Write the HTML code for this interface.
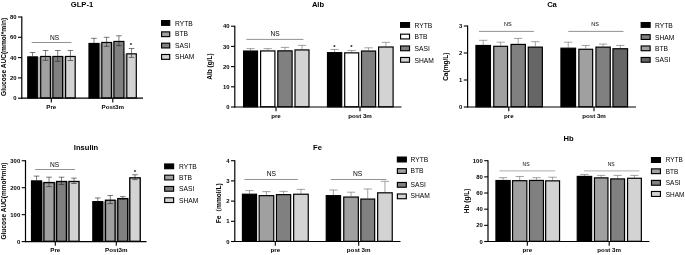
<!DOCTYPE html>
<html><head><meta charset="utf-8"><title>Figure</title>
<style>html,body{margin:0;padding:0;background:#fff;}body{width:685px;height:255px;overflow:hidden;}svg{display:block;will-change:transform;}text{font-family:'Liberation Sans', 'Noto Sans CJK SC', Arial, Helvetica, sans-serif;}</style></head>
<body><svg width="685" height="255" viewBox="0 0 685 255" style="font-family:'Liberation Sans', 'Noto Sans CJK SC', Arial, Helvetica, sans-serif">
<rect width="685" height="255" fill="#fff"/>
<rect x="37.70" y="56.78" width="2.60" height="41.42" fill="#b4b4b4"/>
<rect x="50.80" y="56.37" width="1.70" height="41.83" fill="#b4b4b4"/>
<rect x="63.00" y="56.37" width="2.20" height="41.83" fill="#b4b4b4"/>
<rect x="99.40" y="43.38" width="2.00" height="54.82" fill="#b4b4b4"/>
<rect x="111.80" y="42.37" width="1.70" height="55.83" fill="#b4b4b4"/>
<rect x="124.30" y="53.74" width="2.10" height="44.46" fill="#b4b4b4"/>
<line x1="32.55" y1="52.53" x2="32.55" y2="56.28" stroke="#222" stroke-width="0.6"/>
<line x1="29.75" y1="52.53" x2="35.35" y2="52.53" stroke="#222" stroke-width="0.6"/>
<rect x="27.80" y="56.88" width="9.50" height="41.12" fill="#000" stroke="#000" stroke-width="1.2"/>
<line x1="45.55" y1="50.50" x2="45.55" y2="55.87" stroke="#222" stroke-width="0.6"/>
<line x1="42.75" y1="50.50" x2="48.35" y2="50.50" stroke="#222" stroke-width="0.6"/>
<rect x="40.70" y="56.47" width="9.70" height="41.53" fill="#a0a0a0" stroke="#000" stroke-width="1.2"/>
<line x1="45.55" y1="55.87" x2="45.55" y2="60.24" stroke="#222" stroke-width="0.6"/>
<line x1="42.75" y1="60.24" x2="48.35" y2="60.24" stroke="#222" stroke-width="0.6"/>
<line x1="57.75" y1="50.50" x2="57.75" y2="55.87" stroke="#222" stroke-width="0.6"/>
<line x1="54.95" y1="50.50" x2="60.55" y2="50.50" stroke="#222" stroke-width="0.6"/>
<rect x="52.90" y="56.47" width="9.70" height="41.53" fill="#808080" stroke="#000" stroke-width="1.2"/>
<line x1="57.75" y1="55.87" x2="57.75" y2="61.25" stroke="#222" stroke-width="0.6"/>
<line x1="54.95" y1="61.25" x2="60.55" y2="61.25" stroke="#222" stroke-width="0.6"/>
<line x1="70.40" y1="50.50" x2="70.40" y2="55.87" stroke="#222" stroke-width="0.6"/>
<line x1="67.60" y1="50.50" x2="73.20" y2="50.50" stroke="#222" stroke-width="0.6"/>
<rect x="65.60" y="56.47" width="9.60" height="41.53" fill="#d3d3d3" stroke="#000" stroke-width="1.2"/>
<line x1="70.40" y1="55.87" x2="70.40" y2="60.54" stroke="#222" stroke-width="0.6"/>
<line x1="67.60" y1="60.54" x2="73.20" y2="60.54" stroke="#222" stroke-width="0.6"/>
<line x1="94.00" y1="38.32" x2="94.00" y2="42.88" stroke="#222" stroke-width="0.6"/>
<line x1="91.20" y1="38.32" x2="96.80" y2="38.32" stroke="#222" stroke-width="0.6"/>
<rect x="89.00" y="43.48" width="10.00" height="54.52" fill="#000" stroke="#000" stroke-width="1.2"/>
<line x1="106.60" y1="37.30" x2="106.60" y2="41.87" stroke="#222" stroke-width="0.6"/>
<line x1="103.80" y1="37.30" x2="109.40" y2="37.30" stroke="#222" stroke-width="0.6"/>
<rect x="101.80" y="42.47" width="9.60" height="55.53" fill="#a0a0a0" stroke="#000" stroke-width="1.2"/>
<line x1="106.60" y1="41.87" x2="106.60" y2="46.33" stroke="#222" stroke-width="0.6"/>
<line x1="103.80" y1="46.33" x2="109.40" y2="46.33" stroke="#222" stroke-width="0.6"/>
<line x1="118.90" y1="35.78" x2="118.90" y2="40.85" stroke="#222" stroke-width="0.6"/>
<line x1="116.10" y1="35.78" x2="121.70" y2="35.78" stroke="#222" stroke-width="0.6"/>
<rect x="113.90" y="41.45" width="10.00" height="56.55" fill="#808080" stroke="#000" stroke-width="1.2"/>
<line x1="118.90" y1="40.85" x2="118.90" y2="45.62" stroke="#222" stroke-width="0.6"/>
<line x1="116.10" y1="45.62" x2="121.70" y2="45.62" stroke="#222" stroke-width="0.6"/>
<line x1="131.55" y1="48.47" x2="131.55" y2="53.24" stroke="#222" stroke-width="0.6"/>
<line x1="128.75" y1="48.47" x2="134.35" y2="48.47" stroke="#222" stroke-width="0.6"/>
<rect x="126.80" y="53.84" width="9.50" height="44.16" fill="#d3d3d3" stroke="#000" stroke-width="1.2"/>
<line x1="131.55" y1="53.24" x2="131.55" y2="57.40" stroke="#222" stroke-width="0.6"/>
<line x1="128.75" y1="57.40" x2="134.35" y2="57.40" stroke="#222" stroke-width="0.6"/>
<line x1="21.80" y1="16.45" x2="21.80" y2="98.75" stroke="#000" stroke-width="1.2"/>
<line x1="21.20" y1="98.20" x2="143.00" y2="98.20" stroke="#000" stroke-width="1.2"/>
<line x1="18.00" y1="98.20" x2="21.80" y2="98.20" stroke="#000" stroke-width="1.1"/>
<text x="16.50" y="100.32" font-size="5.9" text-anchor="end" font-weight="bold" fill="#000">0</text>
<line x1="18.00" y1="77.90" x2="21.80" y2="77.90" stroke="#000" stroke-width="1.1"/>
<text x="16.50" y="80.02" font-size="5.9" text-anchor="end" font-weight="bold" fill="#000">20</text>
<line x1="18.00" y1="57.60" x2="21.80" y2="57.60" stroke="#000" stroke-width="1.1"/>
<text x="16.50" y="59.72" font-size="5.9" text-anchor="end" font-weight="bold" fill="#000">40</text>
<line x1="18.00" y1="37.30" x2="21.80" y2="37.30" stroke="#000" stroke-width="1.1"/>
<text x="16.50" y="39.42" font-size="5.9" text-anchor="end" font-weight="bold" fill="#000">60</text>
<line x1="18.00" y1="17.00" x2="21.80" y2="17.00" stroke="#000" stroke-width="1.1"/>
<text x="16.50" y="19.12" font-size="5.9" text-anchor="end" font-weight="bold" fill="#000">80</text>
<line x1="51.30" y1="98.20" x2="51.30" y2="102.40" stroke="#000" stroke-width="1.1"/>
<text x="51.30" y="108.60" font-size="6.2" text-anchor="middle" font-weight="bold" fill="#000">Pre</text>
<line x1="112.80" y1="98.20" x2="112.80" y2="102.40" stroke="#000" stroke-width="1.1"/>
<text x="112.80" y="108.60" font-size="6.2" text-anchor="middle" font-weight="bold" fill="#000">Post3m</text>
<text x="82.00" y="6.90" font-size="7.6" text-anchor="middle" font-weight="bold" fill="#000">GLP-1</text>
<text x="6.30" y="56.90" font-size="6.6" text-anchor="middle" font-weight="bold" transform="rotate(-90 6.30 56.90)" fill="#000">Glucose AUC(mmol*min)</text>
<line x1="31.70" y1="42.50" x2="71.40" y2="42.50" stroke="#484848" stroke-width="0.6"/>
<text x="54.60" y="39.80" font-size="6.6" text-anchor="middle" fill="#000">NS</text>
<text x="131.00" y="47.10" font-size="6" text-anchor="middle" font-weight="bold" fill="#000">*</text>
<rect x="161.57" y="20.57" width="8.15" height="4.75" fill="#000" stroke="#000" stroke-width="1.15"/>
<text x="175.00" y="25.50" font-size="6.7" text-anchor="start" fill="#000">RYTB</text>
<rect x="161.57" y="31.87" width="8.15" height="4.75" fill="#a0a0a0" stroke="#000" stroke-width="1.15"/>
<text x="175.00" y="36.40" font-size="6.7" text-anchor="start" fill="#000">BTB</text>
<rect x="161.57" y="43.18" width="8.15" height="4.75" fill="#808080" stroke="#000" stroke-width="1.15"/>
<text x="175.00" y="48.10" font-size="6.7" text-anchor="start" fill="#000">SASI</text>
<rect x="161.57" y="54.48" width="8.15" height="4.85" fill="#d3d3d3" stroke="#000" stroke-width="1.15"/>
<text x="175.00" y="59.20" font-size="6.7" text-anchor="start" fill="#000">SHAM</text>
<line x1="250.55" y1="48.62" x2="250.55" y2="50.44" stroke="#666" stroke-width="0.6"/>
<line x1="246.40" y1="48.62" x2="254.70" y2="48.62" stroke="#666" stroke-width="0.6"/>
<rect x="243.60" y="51.04" width="13.90" height="55.76" fill="#000" stroke="#000" stroke-width="1.2"/>
<line x1="267.75" y1="48.62" x2="267.75" y2="50.34" stroke="#666" stroke-width="0.6"/>
<line x1="263.60" y1="48.62" x2="271.90" y2="48.62" stroke="#666" stroke-width="0.6"/>
<rect x="260.60" y="50.94" width="14.30" height="55.86" fill="#fff" stroke="#000" stroke-width="1.2"/>
<line x1="284.95" y1="47.41" x2="284.95" y2="50.24" stroke="#666" stroke-width="0.6"/>
<line x1="280.80" y1="47.41" x2="289.10" y2="47.41" stroke="#666" stroke-width="0.6"/>
<rect x="277.80" y="50.84" width="14.30" height="55.96" fill="#808080" stroke="#000" stroke-width="1.2"/>
<line x1="302.00" y1="45.39" x2="302.00" y2="49.33" stroke="#666" stroke-width="0.6"/>
<line x1="297.85" y1="45.39" x2="306.15" y2="45.39" stroke="#666" stroke-width="0.6"/>
<rect x="295.00" y="49.93" width="14.00" height="56.87" fill="#d3d3d3" stroke="#000" stroke-width="1.2"/>
<line x1="334.60" y1="49.43" x2="334.60" y2="52.06" stroke="#666" stroke-width="0.6"/>
<line x1="330.45" y1="49.43" x2="338.75" y2="49.43" stroke="#666" stroke-width="0.6"/>
<rect x="327.50" y="52.66" width="14.20" height="54.14" fill="#000" stroke="#000" stroke-width="1.2"/>
<line x1="351.70" y1="50.44" x2="351.70" y2="52.26" stroke="#666" stroke-width="0.6"/>
<line x1="347.55" y1="50.44" x2="355.85" y2="50.44" stroke="#666" stroke-width="0.6"/>
<rect x="344.70" y="52.86" width="14.00" height="53.94" fill="#fff" stroke="#000" stroke-width="1.2"/>
<line x1="368.55" y1="47.81" x2="368.55" y2="50.44" stroke="#666" stroke-width="0.6"/>
<line x1="364.40" y1="47.81" x2="372.70" y2="47.81" stroke="#666" stroke-width="0.6"/>
<rect x="361.50" y="51.04" width="14.10" height="55.76" fill="#808080" stroke="#000" stroke-width="1.2"/>
<line x1="385.85" y1="42.36" x2="385.85" y2="46.40" stroke="#666" stroke-width="0.6"/>
<line x1="381.70" y1="42.36" x2="390.00" y2="42.36" stroke="#666" stroke-width="0.6"/>
<rect x="378.60" y="47.00" width="14.50" height="59.80" fill="#d3d3d3" stroke="#000" stroke-width="1.2"/>
<line x1="234.80" y1="25.65" x2="234.80" y2="107.55" stroke="#000" stroke-width="1.2"/>
<line x1="234.20" y1="107.00" x2="401.50" y2="107.00" stroke="#000" stroke-width="1.2"/>
<line x1="231.00" y1="107.00" x2="234.80" y2="107.00" stroke="#000" stroke-width="1.1"/>
<text x="229.50" y="109.12" font-size="5.9" text-anchor="end" font-weight="bold" fill="#000">0</text>
<line x1="231.00" y1="86.80" x2="234.80" y2="86.80" stroke="#000" stroke-width="1.1"/>
<text x="229.50" y="88.92" font-size="5.9" text-anchor="end" font-weight="bold" fill="#000">10</text>
<line x1="231.00" y1="66.60" x2="234.80" y2="66.60" stroke="#000" stroke-width="1.1"/>
<text x="229.50" y="68.72" font-size="5.9" text-anchor="end" font-weight="bold" fill="#000">20</text>
<line x1="231.00" y1="46.40" x2="234.80" y2="46.40" stroke="#000" stroke-width="1.1"/>
<text x="229.50" y="48.52" font-size="5.9" text-anchor="end" font-weight="bold" fill="#000">30</text>
<line x1="231.00" y1="26.20" x2="234.80" y2="26.20" stroke="#000" stroke-width="1.1"/>
<text x="229.50" y="28.32" font-size="5.9" text-anchor="end" font-weight="bold" fill="#000">40</text>
<line x1="276.00" y1="107.00" x2="276.00" y2="111.20" stroke="#000" stroke-width="1.1"/>
<text x="276.00" y="117.80" font-size="6.2" text-anchor="middle" font-weight="bold" fill="#000">pre</text>
<line x1="360.00" y1="107.00" x2="360.00" y2="111.20" stroke="#000" stroke-width="1.1"/>
<text x="360.00" y="117.80" font-size="6.2" text-anchor="middle" font-weight="bold" fill="#000">post 3m</text>
<text x="318.00" y="6.90" font-size="7.6" text-anchor="middle" font-weight="bold" fill="#000">Alb</text>
<text x="211.70" y="66.50" font-size="6.56" text-anchor="middle" font-weight="bold" transform="rotate(-90 211.70 66.50)" fill="#000">Alb (g/L)</text>
<line x1="246.40" y1="39.40" x2="303.40" y2="39.40" stroke="#484848" stroke-width="0.6"/>
<text x="275.00" y="35.70" font-size="6.6" text-anchor="middle" fill="#000">NS</text>
<text x="334.50" y="48.50" font-size="6" text-anchor="middle" font-weight="bold" fill="#000">*</text>
<text x="351.50" y="48.50" font-size="6" text-anchor="middle" font-weight="bold" fill="#000">*</text>
<rect x="400.57" y="22.57" width="8.95" height="4.75" fill="#000" stroke="#000" stroke-width="1.15"/>
<text x="414.50" y="27.50" font-size="6.7" text-anchor="start" fill="#000">RYTB</text>
<rect x="400.57" y="34.18" width="8.95" height="4.75" fill="#fff" stroke="#000" stroke-width="1.15"/>
<text x="414.50" y="38.90" font-size="6.7" text-anchor="start" fill="#000">BTB</text>
<rect x="400.57" y="45.98" width="8.95" height="4.75" fill="#808080" stroke="#000" stroke-width="1.15"/>
<text x="414.50" y="50.70" font-size="6.7" text-anchor="start" fill="#000">SASI</text>
<rect x="400.57" y="57.48" width="8.95" height="4.75" fill="#d3d3d3" stroke="#000" stroke-width="1.15"/>
<text x="414.50" y="62.50" font-size="6.7" text-anchor="start" fill="#000">SHAM</text>
<line x1="483.20" y1="40.31" x2="483.20" y2="44.90" stroke="#666" stroke-width="0.6"/>
<line x1="479.05" y1="40.31" x2="487.35" y2="40.31" stroke="#666" stroke-width="0.6"/>
<rect x="475.95" y="45.50" width="14.50" height="61.30" fill="#000" stroke="#000" stroke-width="1.2"/>
<line x1="500.65" y1="42.20" x2="500.65" y2="45.71" stroke="#666" stroke-width="0.6"/>
<line x1="496.50" y1="42.20" x2="504.80" y2="42.20" stroke="#666" stroke-width="0.6"/>
<rect x="493.75" y="46.31" width="13.80" height="60.49" fill="#a0a0a0" stroke="#000" stroke-width="1.2"/>
<line x1="518.20" y1="38.42" x2="518.20" y2="43.82" stroke="#666" stroke-width="0.6"/>
<line x1="514.05" y1="38.42" x2="522.35" y2="38.42" stroke="#666" stroke-width="0.6"/>
<rect x="511.05" y="44.42" width="14.30" height="62.38" fill="#808080" stroke="#000" stroke-width="1.2"/>
<line x1="535.30" y1="41.66" x2="535.30" y2="46.52" stroke="#666" stroke-width="0.6"/>
<line x1="531.15" y1="41.66" x2="539.45" y2="41.66" stroke="#666" stroke-width="0.6"/>
<rect x="528.25" y="47.12" width="14.10" height="59.68" fill="#666" stroke="#000" stroke-width="1.2"/>
<line x1="568.25" y1="42.20" x2="568.25" y2="47.60" stroke="#666" stroke-width="0.6"/>
<line x1="564.10" y1="42.20" x2="572.40" y2="42.20" stroke="#666" stroke-width="0.6"/>
<rect x="560.95" y="48.20" width="14.60" height="58.60" fill="#000" stroke="#000" stroke-width="1.2"/>
<line x1="585.75" y1="45.44" x2="585.75" y2="48.68" stroke="#666" stroke-width="0.6"/>
<line x1="581.60" y1="45.44" x2="589.90" y2="45.44" stroke="#666" stroke-width="0.6"/>
<rect x="578.85" y="49.28" width="13.80" height="57.52" fill="#a0a0a0" stroke="#000" stroke-width="1.2"/>
<line x1="603.10" y1="44.09" x2="603.10" y2="46.52" stroke="#666" stroke-width="0.6"/>
<line x1="598.95" y1="44.09" x2="607.25" y2="44.09" stroke="#666" stroke-width="0.6"/>
<rect x="595.95" y="47.12" width="14.30" height="59.68" fill="#808080" stroke="#000" stroke-width="1.2"/>
<line x1="620.25" y1="45.44" x2="620.25" y2="48.14" stroke="#666" stroke-width="0.6"/>
<line x1="616.10" y1="45.44" x2="624.40" y2="45.44" stroke="#666" stroke-width="0.6"/>
<rect x="612.95" y="48.74" width="14.60" height="58.06" fill="#666" stroke="#000" stroke-width="1.2"/>
<line x1="467.60" y1="25.45" x2="467.60" y2="107.55" stroke="#000" stroke-width="1.2"/>
<line x1="467.00" y1="107.00" x2="636.00" y2="107.00" stroke="#000" stroke-width="1.2"/>
<line x1="463.80" y1="107.00" x2="467.60" y2="107.00" stroke="#000" stroke-width="1.1"/>
<text x="462.30" y="109.12" font-size="5.9" text-anchor="end" font-weight="bold" fill="#000">0</text>
<line x1="463.80" y1="80.00" x2="467.60" y2="80.00" stroke="#000" stroke-width="1.1"/>
<text x="462.30" y="82.12" font-size="5.9" text-anchor="end" font-weight="bold" fill="#000">1</text>
<line x1="463.80" y1="53.00" x2="467.60" y2="53.00" stroke="#000" stroke-width="1.1"/>
<text x="462.30" y="55.12" font-size="5.9" text-anchor="end" font-weight="bold" fill="#000">2</text>
<line x1="463.80" y1="26.00" x2="467.60" y2="26.00" stroke="#000" stroke-width="1.1"/>
<text x="462.30" y="28.12" font-size="5.9" text-anchor="end" font-weight="bold" fill="#000">3</text>
<line x1="508.80" y1="107.00" x2="508.80" y2="111.20" stroke="#000" stroke-width="1.1"/>
<text x="508.80" y="117.90" font-size="6.2" text-anchor="middle" font-weight="bold" fill="#000">pre</text>
<line x1="594.00" y1="107.00" x2="594.00" y2="111.20" stroke="#000" stroke-width="1.1"/>
<text x="594.00" y="117.90" font-size="6.2" text-anchor="middle" font-weight="bold" fill="#000">post 3m</text>
<text x="552.00" y="6.90" font-size="7.6" text-anchor="middle" font-weight="bold" fill="#000">Ca</text>
<text x="447.60" y="66.70" font-size="6.53" text-anchor="middle" font-weight="bold" transform="rotate(-90 447.60 66.70)" fill="#000">Ca(mg/L)</text>
<line x1="479.00" y1="31.40" x2="533.90" y2="31.40" stroke="#484848" stroke-width="0.6"/>
<text x="507.80" y="26.30" font-size="5.5" text-anchor="middle" fill="#000">NS</text>
<line x1="568.30" y1="31.40" x2="623.50" y2="31.40" stroke="#484848" stroke-width="0.6"/>
<text x="595.00" y="26.30" font-size="5.5" text-anchor="middle" fill="#000">NS</text>
<rect x="641.18" y="22.57" width="8.95" height="4.75" fill="#000" stroke="#000" stroke-width="1.15"/>
<text x="655.00" y="27.50" font-size="6.7" text-anchor="start" fill="#000">RYTB</text>
<rect x="641.18" y="34.68" width="8.95" height="4.75" fill="#808080" stroke="#000" stroke-width="1.15"/>
<text x="655.00" y="39.50" font-size="6.7" text-anchor="start" fill="#000">SHAM</text>
<rect x="641.18" y="45.98" width="8.95" height="4.75" fill="#a0a0a0" stroke="#000" stroke-width="1.15"/>
<text x="655.00" y="50.70" font-size="6.7" text-anchor="start" fill="#000">BTB</text>
<rect x="641.18" y="57.48" width="8.95" height="4.75" fill="#666" stroke="#000" stroke-width="1.15"/>
<text x="655.00" y="61.80" font-size="6.7" text-anchor="start" fill="#000">SASI</text>
<rect x="42.00" y="182.41" width="1.40" height="59.19" fill="#a8a8a8"/>
<rect x="54.70" y="182.41" width="1.40" height="59.19" fill="#a8a8a8"/>
<rect x="66.90" y="181.33" width="1.60" height="60.27" fill="#a8a8a8"/>
<rect x="103.10" y="201.54" width="1.90" height="40.06" fill="#a8a8a8"/>
<rect x="115.60" y="200.06" width="1.70" height="41.54" fill="#a8a8a8"/>
<rect x="128.20" y="198.44" width="1.10" height="43.16" fill="#a8a8a8"/>
<line x1="36.55" y1="176.11" x2="36.55" y2="180.29" stroke="#222" stroke-width="0.6"/>
<line x1="33.75" y1="176.11" x2="39.35" y2="176.11" stroke="#222" stroke-width="0.6"/>
<rect x="31.57" y="180.96" width="9.95" height="60.36" fill="#000" stroke="#000" stroke-width="1.35"/>
<line x1="49.05" y1="177.19" x2="49.05" y2="181.91" stroke="#222" stroke-width="0.6"/>
<line x1="46.25" y1="177.19" x2="51.85" y2="177.19" stroke="#222" stroke-width="0.6"/>
<rect x="43.88" y="182.58" width="10.35" height="58.74" fill="#a0a0a0" stroke="#000" stroke-width="1.35"/>
<line x1="49.05" y1="181.91" x2="49.05" y2="186.62" stroke="#222" stroke-width="0.6"/>
<line x1="46.25" y1="186.62" x2="51.85" y2="186.62" stroke="#222" stroke-width="0.6"/>
<line x1="61.50" y1="177.19" x2="61.50" y2="180.83" stroke="#222" stroke-width="0.6"/>
<line x1="58.70" y1="177.19" x2="64.30" y2="177.19" stroke="#222" stroke-width="0.6"/>
<rect x="56.57" y="181.50" width="9.85" height="59.82" fill="#808080" stroke="#000" stroke-width="1.35"/>
<line x1="61.50" y1="180.83" x2="61.50" y2="184.47" stroke="#222" stroke-width="0.6"/>
<line x1="58.70" y1="184.47" x2="64.30" y2="184.47" stroke="#222" stroke-width="0.6"/>
<line x1="74.00" y1="178.13" x2="74.00" y2="180.83" stroke="#222" stroke-width="0.6"/>
<line x1="71.20" y1="178.13" x2="76.80" y2="178.13" stroke="#222" stroke-width="0.6"/>
<rect x="68.97" y="181.50" width="10.05" height="59.82" fill="#d3d3d3" stroke="#000" stroke-width="1.35"/>
<line x1="74.00" y1="180.83" x2="74.00" y2="183.52" stroke="#222" stroke-width="0.6"/>
<line x1="71.20" y1="183.52" x2="76.80" y2="183.52" stroke="#222" stroke-width="0.6"/>
<line x1="97.75" y1="197.94" x2="97.75" y2="201.04" stroke="#222" stroke-width="0.6"/>
<line x1="94.95" y1="197.94" x2="100.55" y2="197.94" stroke="#222" stroke-width="0.6"/>
<rect x="92.88" y="201.72" width="9.75" height="39.61" fill="#000" stroke="#000" stroke-width="1.35"/>
<line x1="110.30" y1="195.52" x2="110.30" y2="199.56" stroke="#222" stroke-width="0.6"/>
<line x1="107.50" y1="195.52" x2="113.10" y2="195.52" stroke="#222" stroke-width="0.6"/>
<rect x="105.47" y="200.23" width="9.65" height="41.09" fill="#a0a0a0" stroke="#000" stroke-width="1.35"/>
<line x1="110.30" y1="199.56" x2="110.30" y2="203.60" stroke="#222" stroke-width="0.6"/>
<line x1="107.50" y1="203.60" x2="113.10" y2="203.60" stroke="#222" stroke-width="0.6"/>
<line x1="122.75" y1="196.59" x2="122.75" y2="197.94" stroke="#222" stroke-width="0.6"/>
<line x1="119.95" y1="196.59" x2="125.55" y2="196.59" stroke="#222" stroke-width="0.6"/>
<rect x="117.77" y="198.62" width="9.95" height="42.71" fill="#808080" stroke="#000" stroke-width="1.35"/>
<line x1="122.75" y1="197.94" x2="122.75" y2="199.29" stroke="#222" stroke-width="0.6"/>
<line x1="119.95" y1="199.29" x2="125.55" y2="199.29" stroke="#222" stroke-width="0.6"/>
<line x1="135.00" y1="174.76" x2="135.00" y2="177.19" stroke="#222" stroke-width="0.6"/>
<line x1="132.20" y1="174.76" x2="137.80" y2="174.76" stroke="#222" stroke-width="0.6"/>
<rect x="129.78" y="177.86" width="10.45" height="63.46" fill="#d3d3d3" stroke="#000" stroke-width="1.35"/>
<line x1="135.00" y1="177.19" x2="135.00" y2="179.61" stroke="#222" stroke-width="0.6"/>
<line x1="132.20" y1="179.61" x2="137.80" y2="179.61" stroke="#222" stroke-width="0.6"/>
<line x1="25.50" y1="160.20" x2="25.50" y2="242.15" stroke="#000" stroke-width="1.2"/>
<line x1="24.90" y1="241.60" x2="146.50" y2="241.60" stroke="#000" stroke-width="1.2"/>
<line x1="21.70" y1="241.60" x2="25.50" y2="241.60" stroke="#000" stroke-width="1.1"/>
<text x="20.20" y="243.72" font-size="5.9" text-anchor="end" font-weight="bold" fill="#000">0</text>
<line x1="21.70" y1="214.65" x2="25.50" y2="214.65" stroke="#000" stroke-width="1.1"/>
<text x="20.20" y="216.77" font-size="5.9" text-anchor="end" font-weight="bold" fill="#000">100</text>
<line x1="21.70" y1="187.70" x2="25.50" y2="187.70" stroke="#000" stroke-width="1.1"/>
<text x="20.20" y="189.82" font-size="5.9" text-anchor="end" font-weight="bold" fill="#000">200</text>
<line x1="21.70" y1="160.75" x2="25.50" y2="160.75" stroke="#000" stroke-width="1.1"/>
<text x="20.20" y="162.87" font-size="5.9" text-anchor="end" font-weight="bold" fill="#000">300</text>
<line x1="55.30" y1="241.60" x2="55.30" y2="245.80" stroke="#000" stroke-width="1.1"/>
<text x="55.30" y="252.20" font-size="6.2" text-anchor="middle" font-weight="bold" fill="#000">Pre</text>
<line x1="116.30" y1="241.60" x2="116.30" y2="245.80" stroke="#000" stroke-width="1.1"/>
<text x="116.30" y="252.20" font-size="6.2" text-anchor="middle" font-weight="bold" fill="#000">Post3m</text>
<text x="86.00" y="150.30" font-size="7.6" text-anchor="middle" font-weight="bold" fill="#000">Insulin</text>
<text x="6.30" y="201.00" font-size="6.5" text-anchor="middle" font-weight="bold" transform="rotate(-90 6.30 201.00)" fill="#000">Glucose AUC(mmol*min)</text>
<line x1="35.20" y1="169.50" x2="74.90" y2="169.50" stroke="#484848" stroke-width="0.6"/>
<text x="54.50" y="167.30" font-size="6.6" text-anchor="middle" fill="#000">NS</text>
<text x="135.00" y="173.50" font-size="6" text-anchor="middle" font-weight="bold" fill="#000">*</text>
<rect x="164.67" y="163.97" width="8.95" height="4.75" fill="#000" stroke="#000" stroke-width="1.15"/>
<text x="179.00" y="169.00" font-size="6.7" text-anchor="start" fill="#000">RYTB</text>
<rect x="164.67" y="175.17" width="8.95" height="4.75" fill="#a0a0a0" stroke="#000" stroke-width="1.15"/>
<text x="179.00" y="180.10" font-size="6.7" text-anchor="start" fill="#000">BTB</text>
<rect x="164.67" y="186.47" width="8.95" height="4.75" fill="#808080" stroke="#000" stroke-width="1.15"/>
<text x="179.00" y="191.40" font-size="6.7" text-anchor="start" fill="#000">SASI</text>
<rect x="164.67" y="197.78" width="8.95" height="4.75" fill="#d3d3d3" stroke="#000" stroke-width="1.15"/>
<text x="179.00" y="203.10" font-size="6.7" text-anchor="start" fill="#000">SHAM</text>
<line x1="249.50" y1="190.60" x2="249.50" y2="193.63" stroke="#666" stroke-width="0.6"/>
<line x1="245.35" y1="190.60" x2="253.65" y2="190.60" stroke="#666" stroke-width="0.6"/>
<rect x="242.45" y="194.23" width="14.10" height="47.07" fill="#000" stroke="#000" stroke-width="1.2"/>
<line x1="266.45" y1="191.61" x2="266.45" y2="195.04" stroke="#666" stroke-width="0.6"/>
<line x1="262.30" y1="191.61" x2="270.60" y2="191.61" stroke="#666" stroke-width="0.6"/>
<rect x="259.15" y="195.64" width="14.60" height="45.66" fill="#a0a0a0" stroke="#000" stroke-width="1.2"/>
<line x1="283.55" y1="191.40" x2="283.55" y2="194.03" stroke="#666" stroke-width="0.6"/>
<line x1="279.40" y1="191.40" x2="287.70" y2="191.40" stroke="#666" stroke-width="0.6"/>
<rect x="276.45" y="194.63" width="14.20" height="46.67" fill="#808080" stroke="#000" stroke-width="1.2"/>
<line x1="300.95" y1="189.38" x2="300.95" y2="193.63" stroke="#666" stroke-width="0.6"/>
<line x1="296.80" y1="189.38" x2="305.10" y2="189.38" stroke="#666" stroke-width="0.6"/>
<rect x="293.65" y="194.23" width="14.60" height="47.07" fill="#d3d3d3" stroke="#000" stroke-width="1.2"/>
<line x1="333.40" y1="189.99" x2="333.40" y2="195.04" stroke="#666" stroke-width="0.6"/>
<line x1="329.25" y1="189.99" x2="337.55" y2="189.99" stroke="#666" stroke-width="0.6"/>
<rect x="326.25" y="195.64" width="14.30" height="45.66" fill="#000" stroke="#000" stroke-width="1.2"/>
<line x1="351.05" y1="192.21" x2="351.05" y2="196.45" stroke="#666" stroke-width="0.6"/>
<line x1="346.90" y1="192.21" x2="355.20" y2="192.21" stroke="#666" stroke-width="0.6"/>
<rect x="343.75" y="197.05" width="14.60" height="44.25" fill="#a0a0a0" stroke="#000" stroke-width="1.2"/>
<line x1="367.75" y1="188.98" x2="367.75" y2="198.47" stroke="#666" stroke-width="0.6"/>
<line x1="363.60" y1="188.98" x2="371.90" y2="188.98" stroke="#666" stroke-width="0.6"/>
<rect x="360.85" y="199.07" width="13.80" height="42.23" fill="#808080" stroke="#000" stroke-width="1.2"/>
<line x1="384.95" y1="181.30" x2="384.95" y2="192.21" stroke="#666" stroke-width="0.6"/>
<line x1="380.80" y1="181.30" x2="389.10" y2="181.30" stroke="#666" stroke-width="0.6"/>
<rect x="377.65" y="192.81" width="14.60" height="48.49" fill="#d3d3d3" stroke="#000" stroke-width="1.2"/>
<line x1="234.80" y1="160.15" x2="234.80" y2="242.05" stroke="#000" stroke-width="1.2"/>
<line x1="234.20" y1="241.50" x2="400.50" y2="241.50" stroke="#000" stroke-width="1.2"/>
<line x1="231.00" y1="241.50" x2="234.80" y2="241.50" stroke="#000" stroke-width="1.1"/>
<text x="229.50" y="243.62" font-size="5.9" text-anchor="end" font-weight="bold" fill="#000">0</text>
<line x1="231.00" y1="221.30" x2="234.80" y2="221.30" stroke="#000" stroke-width="1.1"/>
<text x="229.50" y="223.42" font-size="5.9" text-anchor="end" font-weight="bold" fill="#000">1</text>
<line x1="231.00" y1="201.10" x2="234.80" y2="201.10" stroke="#000" stroke-width="1.1"/>
<text x="229.50" y="203.22" font-size="5.9" text-anchor="end" font-weight="bold" fill="#000">2</text>
<line x1="231.00" y1="180.90" x2="234.80" y2="180.90" stroke="#000" stroke-width="1.1"/>
<text x="229.50" y="183.02" font-size="5.9" text-anchor="end" font-weight="bold" fill="#000">3</text>
<line x1="231.00" y1="160.70" x2="234.80" y2="160.70" stroke="#000" stroke-width="1.1"/>
<text x="229.50" y="162.82" font-size="5.9" text-anchor="end" font-weight="bold" fill="#000">4</text>
<line x1="275.30" y1="241.50" x2="275.30" y2="245.70" stroke="#000" stroke-width="1.1"/>
<text x="275.30" y="252.30" font-size="6.2" text-anchor="middle" font-weight="bold" fill="#000">pre</text>
<line x1="358.70" y1="241.50" x2="358.70" y2="245.70" stroke="#000" stroke-width="1.1"/>
<text x="358.70" y="252.30" font-size="6.2" text-anchor="middle" font-weight="bold" fill="#000">post 3m</text>
<text x="317.50" y="150.00" font-size="7.6" text-anchor="middle" font-weight="bold" fill="#000">Fe</text>
<text x="221.20" y="203.20" font-size="6.6" text-anchor="middle" font-weight="bold" transform="rotate(-90 221.20 203.20)" fill="#000">Fe（mmol/L)</text>
<line x1="244.40" y1="179.50" x2="297.90" y2="179.50" stroke="#484848" stroke-width="0.6"/>
<text x="271.30" y="175.90" font-size="6.7" text-anchor="middle" fill="#000">NS</text>
<line x1="331.00" y1="179.50" x2="386.40" y2="179.50" stroke="#484848" stroke-width="0.6"/>
<text x="357.60" y="175.90" font-size="6.7" text-anchor="middle" fill="#000">NS</text>
<rect x="397.38" y="157.07" width="8.95" height="4.85" fill="#000" stroke="#000" stroke-width="1.15"/>
<text x="410.50" y="162.10" font-size="6.7" text-anchor="start" fill="#000">RYTB</text>
<rect x="397.38" y="168.67" width="8.95" height="4.75" fill="#a0a0a0" stroke="#000" stroke-width="1.15"/>
<text x="410.50" y="173.20" font-size="6.7" text-anchor="start" fill="#000">BTB</text>
<rect x="397.38" y="182.47" width="8.95" height="4.75" fill="#808080" stroke="#000" stroke-width="1.15"/>
<text x="410.50" y="186.70" font-size="6.7" text-anchor="start" fill="#000">SASI</text>
<rect x="397.38" y="193.97" width="8.95" height="4.75" fill="#d3d3d3" stroke="#000" stroke-width="1.15"/>
<text x="410.50" y="198.30" font-size="6.7" text-anchor="start" fill="#000">SHAM</text>
<line x1="503.05" y1="177.67" x2="503.05" y2="179.93" stroke="#666" stroke-width="0.6"/>
<line x1="498.90" y1="177.67" x2="507.20" y2="177.67" stroke="#666" stroke-width="0.6"/>
<rect x="495.95" y="180.53" width="14.20" height="60.77" fill="#000" stroke="#000" stroke-width="1.2"/>
<line x1="519.70" y1="176.46" x2="519.70" y2="180.09" stroke="#666" stroke-width="0.6"/>
<line x1="515.55" y1="176.46" x2="523.85" y2="176.46" stroke="#666" stroke-width="0.6"/>
<rect x="512.55" y="180.69" width="14.30" height="60.61" fill="#a0a0a0" stroke="#000" stroke-width="1.2"/>
<line x1="536.45" y1="177.67" x2="536.45" y2="179.85" stroke="#666" stroke-width="0.6"/>
<line x1="532.30" y1="177.67" x2="540.60" y2="177.67" stroke="#666" stroke-width="0.6"/>
<rect x="529.45" y="180.45" width="14.00" height="60.85" fill="#808080" stroke="#000" stroke-width="1.2"/>
<line x1="552.60" y1="177.26" x2="552.60" y2="180.25" stroke="#666" stroke-width="0.6"/>
<line x1="548.45" y1="177.26" x2="556.75" y2="177.26" stroke="#666" stroke-width="0.6"/>
<rect x="545.65" y="180.85" width="13.90" height="60.45" fill="#d3d3d3" stroke="#000" stroke-width="1.2"/>
<line x1="584.45" y1="174.44" x2="584.45" y2="175.81" stroke="#666" stroke-width="0.6"/>
<line x1="580.30" y1="174.44" x2="588.60" y2="174.44" stroke="#666" stroke-width="0.6"/>
<rect x="577.25" y="176.41" width="14.40" height="64.89" fill="#000" stroke="#000" stroke-width="1.2"/>
<line x1="601.20" y1="175.41" x2="601.20" y2="177.26" stroke="#666" stroke-width="0.6"/>
<line x1="597.05" y1="175.41" x2="605.35" y2="175.41" stroke="#666" stroke-width="0.6"/>
<rect x="594.45" y="177.86" width="13.50" height="63.44" fill="#a0a0a0" stroke="#000" stroke-width="1.2"/>
<line x1="617.65" y1="175.41" x2="617.65" y2="178.31" stroke="#666" stroke-width="0.6"/>
<line x1="613.50" y1="175.41" x2="621.80" y2="175.41" stroke="#666" stroke-width="0.6"/>
<rect x="610.75" y="178.91" width="13.80" height="62.39" fill="#808080" stroke="#000" stroke-width="1.2"/>
<line x1="634.45" y1="175.41" x2="634.45" y2="177.67" stroke="#666" stroke-width="0.6"/>
<line x1="630.30" y1="175.41" x2="638.60" y2="175.41" stroke="#666" stroke-width="0.6"/>
<rect x="627.55" y="178.27" width="13.80" height="63.03" fill="#d3d3d3" stroke="#000" stroke-width="1.2"/>
<line x1="488.00" y1="160.15" x2="488.00" y2="242.05" stroke="#000" stroke-width="1.2"/>
<line x1="487.40" y1="241.50" x2="649.40" y2="241.50" stroke="#000" stroke-width="1.2"/>
<line x1="484.20" y1="241.50" x2="488.00" y2="241.50" stroke="#000" stroke-width="1.1"/>
<text x="482.70" y="243.62" font-size="5.9" text-anchor="end" font-weight="bold" fill="#000">0</text>
<line x1="484.20" y1="225.34" x2="488.00" y2="225.34" stroke="#000" stroke-width="1.1"/>
<text x="482.70" y="227.46" font-size="5.9" text-anchor="end" font-weight="bold" fill="#000">20</text>
<line x1="484.20" y1="209.18" x2="488.00" y2="209.18" stroke="#000" stroke-width="1.1"/>
<text x="482.70" y="211.30" font-size="5.9" text-anchor="end" font-weight="bold" fill="#000">40</text>
<line x1="484.20" y1="193.02" x2="488.00" y2="193.02" stroke="#000" stroke-width="1.1"/>
<text x="482.70" y="195.14" font-size="5.9" text-anchor="end" font-weight="bold" fill="#000">60</text>
<line x1="484.20" y1="176.86" x2="488.00" y2="176.86" stroke="#000" stroke-width="1.1"/>
<text x="482.70" y="178.98" font-size="5.9" text-anchor="end" font-weight="bold" fill="#000">80</text>
<line x1="484.20" y1="160.70" x2="488.00" y2="160.70" stroke="#000" stroke-width="1.1"/>
<text x="482.70" y="162.82" font-size="5.9" text-anchor="end" font-weight="bold" fill="#000">100</text>
<line x1="527.30" y1="241.50" x2="527.30" y2="245.70" stroke="#000" stroke-width="1.1"/>
<text x="527.30" y="252.00" font-size="6.2" text-anchor="middle" font-weight="bold" fill="#000">pre</text>
<line x1="609.20" y1="241.50" x2="609.20" y2="245.70" stroke="#000" stroke-width="1.1"/>
<text x="609.20" y="252.00" font-size="6.2" text-anchor="middle" font-weight="bold" fill="#000">post 3m</text>
<text x="568.60" y="141.10" font-size="7.6" text-anchor="middle" font-weight="bold" fill="#000">Hb</text>
<text x="468.90" y="200.90" font-size="6.5" text-anchor="middle" font-weight="bold" transform="rotate(-90 468.90 200.90)" fill="#000">Hb (g/L)</text>
<line x1="499.50" y1="170.80" x2="555.20" y2="170.80" stroke="#bdbdbd" stroke-width="1.3"/>
<text x="526.00" y="165.60" font-size="5.0" text-anchor="middle" fill="#000">NS</text>
<line x1="583.90" y1="170.80" x2="639.40" y2="170.80" stroke="#bdbdbd" stroke-width="1.3"/>
<text x="611.20" y="165.60" font-size="5.0" text-anchor="middle" fill="#000">NS</text>
<rect x="651.48" y="157.57" width="8.95" height="4.85" fill="#000" stroke="#000" stroke-width="1.15"/>
<text x="665.80" y="162.00" font-size="6.45" text-anchor="start" fill="#000">RYTB</text>
<rect x="651.48" y="168.88" width="8.95" height="4.75" fill="#a0a0a0" stroke="#000" stroke-width="1.15"/>
<text x="665.80" y="173.60" font-size="6.45" text-anchor="start" fill="#000">BTB</text>
<rect x="651.48" y="180.38" width="8.95" height="4.85" fill="#808080" stroke="#000" stroke-width="1.15"/>
<text x="665.80" y="185.10" font-size="6.45" text-anchor="start" fill="#000">SASI</text>
<rect x="651.48" y="191.47" width="8.95" height="4.95" fill="#d3d3d3" stroke="#000" stroke-width="1.15"/>
<text x="665.80" y="196.50" font-size="6.45" text-anchor="start" fill="#000">SHAM</text>
</svg></body></html>
